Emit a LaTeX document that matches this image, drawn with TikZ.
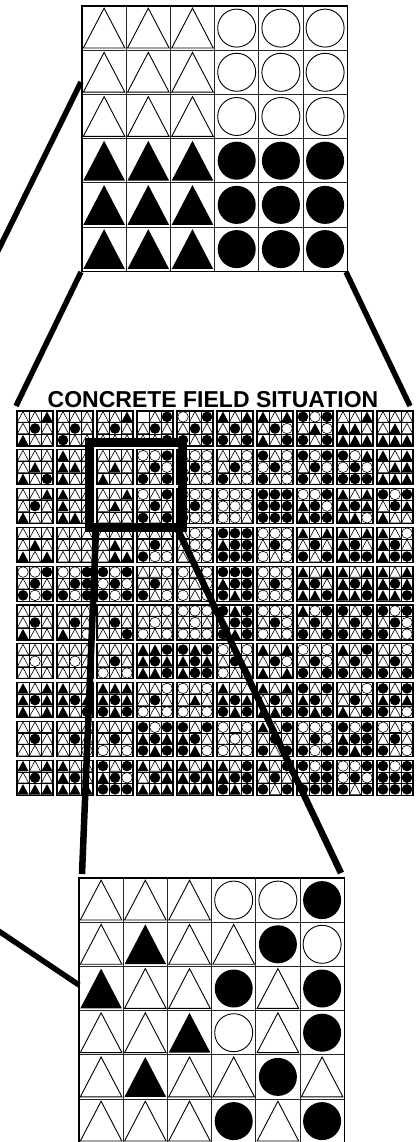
\documentclass[tikz,border=0pt]{standalone}
\usepackage{fontspec}
\setmainfont{Liberation Sans}
\usetikzlibrary{math}

\newcount\symno
\tikzset{
  gridline/.style={line width=0.9, draw=black!85},
  fieldline/.style={line width=0.6},
  zoomline/.style={line width=6, line cap=butt},
}

% one symbol in a cell: #1 code (t,T,c,C,e), #2 left, #3 top, #4 width, #5 height, #6 radius
\newcommand\putsym[6]{%
  \if#1t\draw[line width=\symlw] (#2+0.03*#4,#3+0.95*#5) -- (#2+0.5*#4,#3+0.05*#5) -- (#2+0.97*#4,#3+0.95*#5) -- cycle;\fi
  \if#1T\fill (#2+0.03*#4,#3+0.95*#5) -- (#2+0.5*#4,#3+0.05*#5) -- (#2+0.97*#4,#3+0.95*#5) -- cycle;\fi
  \if#1c\draw[line width=\symlw] (#2+0.5*#4,#3+0.5*#5) circle (#6);\fi
  \if#1C\fill (#2+0.5*#4,#3+0.5*#5) circle (#6);\fi
}
% a grid of symbols: #1 left, #2 top, #3 columns, #4 cell w, #5 cell h, #6 radius, #7 codes
\newcommand\symgrid[7]{%
  \def\symL{#1}\def\symT{#2}\def\symN{#3}\def\symW{#4}\def\symH{#5}\def\symR{#6}%
  \symno=0 \expandafter\readsym#7\relax}
\def\readsym#1{\ifx#1\relax\else
  \pgfmathtruncatemacro\symC{mod(\the\symno,\symN)}%
  \pgfmathtruncatemacro\symRow{floor(\the\symno/\symN)}%
  \putsym{#1}{\symL+\symC*\symW}{\symT+\symRow*\symH}{\symW}{\symH}{\symR}%
  \advance\symno by 1
  \expandafter\readsym\fi}
% one block of the field
\newcommand\fieldblock[3]{%
  \def\symlw{0.6}%
  \symgrid{#1}{#2}{3}{12}{11.667}{5.3pt}{#3}%
  \foreach \k in {1,2} {
    \draw[fieldline] (#1+12*\k,#2) -- (#1+12*\k,#2+35);
    \draw[fieldline] (#1,#2+11.667*\k) -- (#1+36,#2+11.667*\k);
  }
  \draw[line width=1.3] (#1,#2) rectangle (#1+36,#2+35);
}
% a large 6x6 grid
\newcommand\biggrid[3]{%
  \def\symlw{0.9}%
  \symgrid{#1}{#2}{6}{44.2}{44.2}{19pt}{#3}%
  \foreach \k in {1,...,5} {
    \draw[gridline] (#1+44.2*\k,#2) -- (#1+44.2*\k,#2+265.2);
    \draw[gridline] (#1,#2+44.2*\k) -- (#1+265.2,#2+44.2*\k);
  }
  \draw[line width=1.2] (#1,#2) rectangle (#1+265.2,#2+265.2);
}

\begin{document}
\begin{tikzpicture}[x=1pt,y=-1pt]
\path[use as bounding box] (0,0) rectangle (418,1142);
\clip (0,0) rectangle (418,1142);

% ideal pattern
\biggrid{82}{6}{tttccc tttccc tttccc TTTCCC TTTCCC TTTCCC}

% concrete field
\node[font=\bfseries\fontsize{23}{26}\selectfont, anchor=base] (title) at (213,407) {CONCRETE FIELD SITUATION};
\foreach \brow [count=\r from 0] in {
  {ttTtCtTtt,ttttCtCtt,ttTtCtttt,etCtCtttC,ctCtCtCtC,TtTtCtCtC,TtTtCcTtC,CcCtTcCtC,ttTTTtTTT,ttttTtTTT},
  {ttttTtTtC,TttTTtTtt,ttttTtTtt,ccCtCcCtC,tcctCcCtc,ttctCcCtc,CtccCcCtc,CcCtCcCtC,CcTcCcCCC,TtTtTTTTT},
  {ttTtCtTtt,TttTttTTt,ttTtTtttt,ctCtCtCtC,ccctCcCcc,cccccccct,CCCCCCCCC,ccCTCcTCC,TtTTCTTTc,CcCtCTTtt},
  {ttttTtTtT,ttttttttt,ttttTttTT,ttttCtCcc,tcctcctcc,CCCTCCCCC,ccctCcctc,TtTtCtCtC,TtTTCtTCC,TtcTCtTCC},
  {ccCtCtCcC,ccCtCCCcC,CcCcCcCcC,ttctCtCtc,ctcttcctc,CCCTCCCTC,ccctCcccc,TtTTCtTTC,TtTTCTTTC,TtTTCTTTC},
  {ttttCtTtt,ttttCtTtc,ttttCtttC,ttctctctc,ccctctccc,CTCtCCCTC,ccctCcctc,TcCtCtCtC,CtCtCtCtC,CcCtCcCtc},
  {ttttctttt,ttttctttt,ttttCtctc,TTCTCTTTC,CTCTCTTCC,ctctCtctt,TtTtCcTtT,ctctCcCtC,TtCtCtCtC,ttctCtCtC},
  {TtTTCTTtT,TttTCTTtC,TTTTCTCTC,ttctCtctc,ctctTtctc,TttTCTCTC,TtTtCtTTC,CtCTCtCTC,ttctCtTtC,CtCTCTCtc},
  {ttttCtttt,ttttCtttc,ttttCtctc,CcCTCTCTC,CtCTCtCTc,ctctctctc,TtCtCtCtC,ccctCcCcC,CcCTCCCTC,ctctCtCtc},
  {TtTtCtTTT,TttTCtTTT,CtCTCcCCC,TtTtCTTTT,TtTTCTTTT,TtCTCCCTC,TtCtCtCtC,CcCtCCCCC,ccCcCcCtC,CcCCCCCCC}}{
  \foreach \blk [count=\c from 0] in \brow {
    \pgfmathsetmacro\bx{17+40*\c}
    \pgfmathsetmacro\by{411+38.8*\r}
    \fieldblock{\bx}{\by}{\blk}
  }
}

% zoomed detail
\biggrid{79}{878}{tttccC tTttCc TttCtC ttTctC tTttCt tttCtC}

% frame and connectors
\coordinate (boxNW) at (89,442);
\coordinate (boxSE) at (182,527);
\draw[line width=9] (boxNW) rectangle (boxSE);

\coordinate (topBL) at (81,272);
\coordinate (topBR) at (346,272);
\coordinate (fieldL) at (16,406);
\coordinate (fieldR) at (410,406);
\coordinate (topL) at (81,82);
\coordinate (outA) at (-40,328);
\coordinate (boxBL) at (96,530);
\coordinate (boxBR) at (178,530);
\coordinate (botTL) at (82,874);
\coordinate (botTR) at (341,873);
\coordinate (botL) at (79,985);
\coordinate (outB) at (-40,905);

\draw[zoomline, line width=5.5] (topBL) -- (fieldL);
\draw[zoomline, line width=5.5] (topBR) -- (fieldR);
\draw[zoomline, line width=5.5] (topL) -- (outA);
\draw[zoomline, line width=6.5] (boxBL) -- (botTL);
\draw[zoomline, line width=6.5] (boxBR) -- (botTR);
\draw[zoomline, line width=5.5] (botL) -- (outB);

\end{tikzpicture}
\end{document}
